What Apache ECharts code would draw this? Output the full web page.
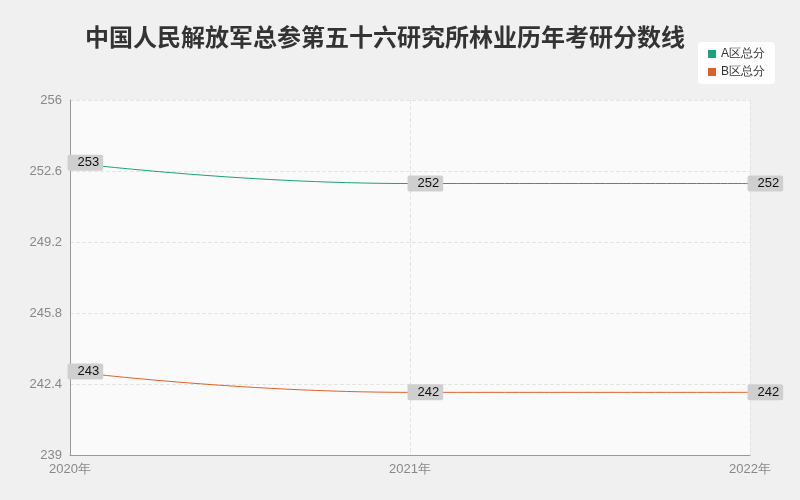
<!DOCTYPE html>
<html><head><meta charset="utf-8">
<script src="https://cdn.jsdelivr.net/npm/echarts@6/dist/echarts.min.js"></script>
<style>html,body{margin:0;background:#f0f0f0}#c{width:800px;height:500px}</style>
</head><body><div id="c"></div>
<script>
const categories = ['2020年','2021年','2022年'];
const seriesA = [253, 252, 252];
const seriesB = [243, 242, 242];
const chart = echarts.init(document.getElementById('c'));
const lbl = {show:true, position:'right', offset:[-8,0], color:'#111', fontSize:13,
  backgroundColor:'#cfcfcf', padding:[2,4,1,10], borderRadius:2};
chart.setOption({
  backgroundColor:'#f0f0f0',
  title:{text:'中国人民解放军总参第五十六研究所林业历年考研分数线', left:80, top:20,
    textStyle:{fontSize:24, fontWeight:'bold', color:'#333', fontFamily:'Noto Sans CJK SC'}},
  legend:{orient:'vertical', right:25, top:42, backgroundColor:'#fff', borderRadius:4,
    padding:[6,10], itemWidth:8, itemHeight:8, itemGap:6, icon:'rect',
    textStyle:{fontSize:12, color:'#333'}, data:['A区总分','B区总分']},
  grid:{left:70, right:50, top:100, bottom:45, show:true, backgroundColor:'#fafafa', borderWidth:0},
  xAxis:{type:'category', data:categories, boundaryGap:false,
    axisLine:{lineStyle:{color:'#999'}}, axisTick:{show:false},
    axisLabel:{color:'#888', fontSize:13},
    splitLine:{show:true, lineStyle:{type:'dashed', color:'#e4e4e4'}}},
  yAxis:{type:'value', min:239, max:256, interval:3.4,
    axisLine:{show:true, lineStyle:{color:'#999'}}, axisTick:{show:false},
    axisLabel:{color:'#888', fontSize:13, formatter:v=>String(Math.round(v*10)/10)},
    splitLine:{lineStyle:{type:'dashed', color:'#e4e4e4'}}},
  series:[
    {name:'A区总分', type:'line', smooth:true, data:seriesA, symbol:'circle', symbolSize:1,
     itemStyle:{color:'#1aa37a'}, lineStyle:{width:1, color:'#1aa37a'}, label:lbl},
    {name:'B区总分', type:'line', smooth:true, data:seriesB, symbol:'circle', symbolSize:1,
     itemStyle:{color:'#e0622a'}, lineStyle:{width:1, color:'#e0622a'}, label:lbl}
  ]
});
</script></body></html>
